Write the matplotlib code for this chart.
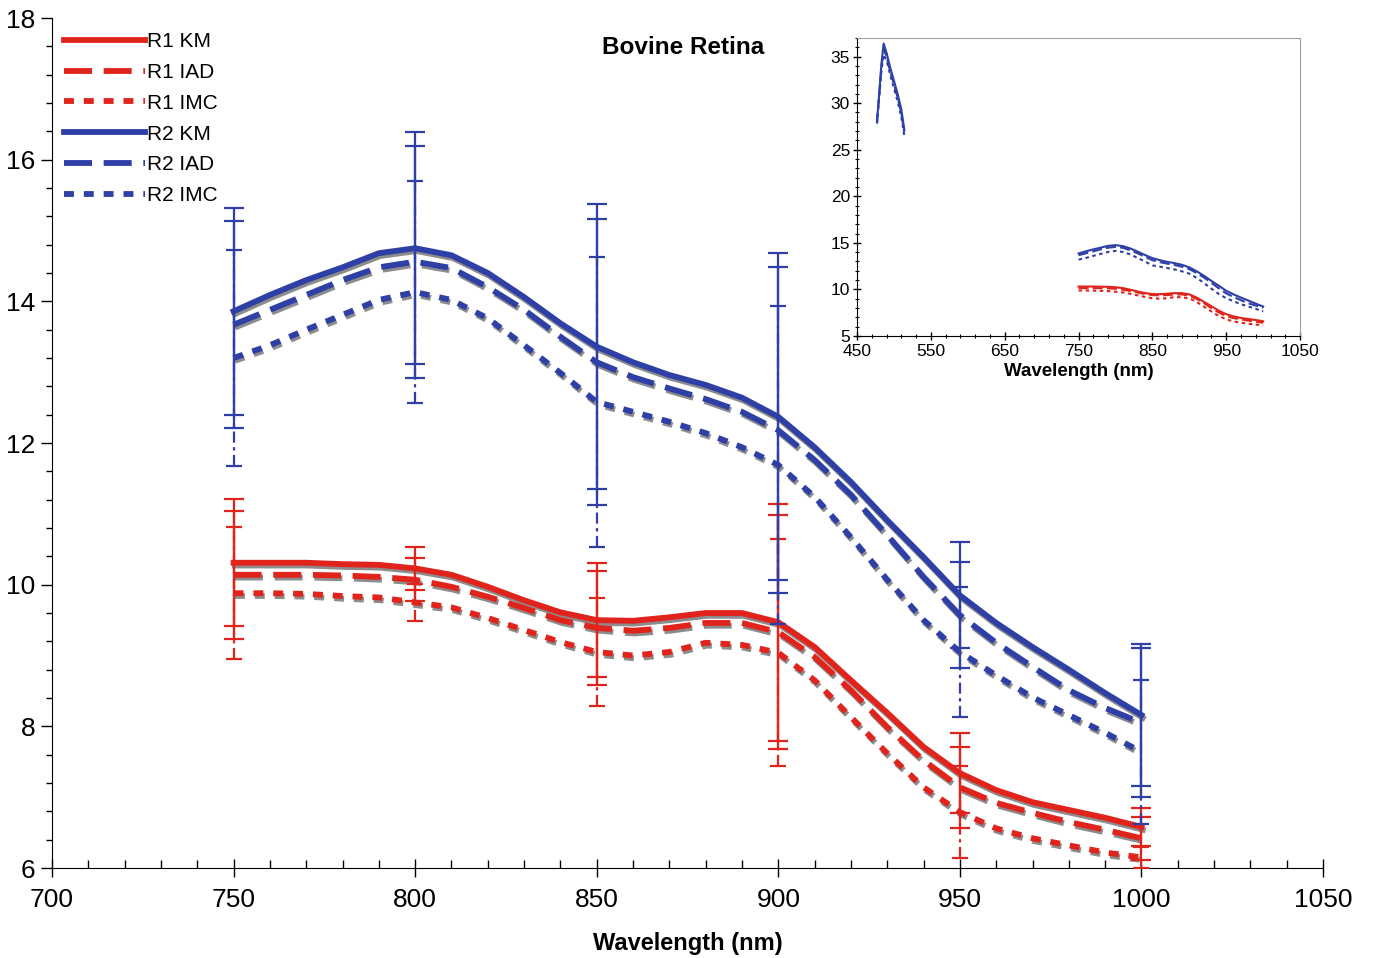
import matplotlib
matplotlib.use("Agg")
import matplotlib.pyplot as plt
import matplotlib.patheffects as pe
from matplotlib.lines import Line2D
from matplotlib.ticker import MultipleLocator, FixedLocator

plt.rcParams["font.family"] = ["Liberation Sans", "DejaVu Sans"]

# wavelengths (nm) for the smoothed spectra
WAVELENGTH = [750, 760, 770, 780, 790, 800, 810, 820, 830, 840, 850, 860, 870,
              880, 890, 900, 910, 920, 930, 940, 950, 960, 970, 980, 990, 1000]

R1_KM = [10.31, 10.31, 10.31, 10.29, 10.28, 10.23, 10.14, 9.97, 9.78, 9.61, 9.50, 9.49, 9.54,
         9.60, 9.60, 9.47, 9.12, 8.65, 8.19, 7.71, 7.34, 7.10, 6.93, 6.82, 6.71, 6.58]
R1_IAD = [10.14, 10.14, 10.14, 10.13, 10.11, 10.07, 9.97, 9.83, 9.67, 9.50, 9.39, 9.35, 9.39,
          9.46, 9.46, 9.33, 8.98, 8.51, 7.99, 7.52, 7.14, 6.92, 6.78, 6.65, 6.54, 6.42]
R1_IMC = [9.88, 9.88, 9.87, 9.84, 9.82, 9.75, 9.68, 9.53, 9.36, 9.19, 9.05, 9.00, 9.05,
          9.18, 9.15, 9.04, 8.65, 8.13, 7.62, 7.14, 6.79, 6.56, 6.42, 6.32, 6.22, 6.15]
R2_KM = [13.86, 14.09, 14.30, 14.48, 14.68, 14.75, 14.65, 14.40, 14.06, 13.69, 13.36, 13.14, 12.96,
         12.82, 12.64, 12.37, 11.94, 11.45, 10.91, 10.39, 9.85, 9.46, 9.12, 8.80, 8.47, 8.16]
R2_IAD = [13.67, 13.88, 14.09, 14.30, 14.48, 14.56, 14.47, 14.20, 13.88, 13.50, 13.14, 12.93, 12.77,
          12.62, 12.44, 12.18, 11.76, 11.27, 10.70, 10.11, 9.57, 9.18, 8.84, 8.51, 8.26, 8.05]
R2_IMC = [13.20, 13.38, 13.60, 13.81, 14.02, 14.13, 14.02, 13.76, 13.38, 12.99, 12.58, 12.44, 12.30,
          12.14, 11.94, 11.69, 11.24, 10.67, 10.07, 9.50, 9.05, 8.72, 8.41, 8.16, 7.91, 7.64]

# error bars every 50 nm
ERR_WAVELENGTH = [750, 800, 850, 900, 950, 1000]
R1_KM_ERR = [0.90, 0.30, 0.80, 1.67, 0.57, 0.27]
R1_IAD_ERR = [0.90, 0.30, 0.80, 1.65, 0.57, 0.30]
R1_IMC_ERR = [0.93, 0.26, 0.76, 1.60, 0.65, 0.15]
R2_KM_ERR = [1.46, 1.64, 2.01, 2.31, 0.75, 1.00]
R2_IAD_ERR = [1.46, 1.64, 2.02, 2.30, 0.75, 1.05]
R2_IMC_ERR = [1.52, 1.57, 2.05, 2.25, 0.92, 1.02]

# visible-range peak, only in the inset
PEAK_WAVELENGTH = [477, 480, 483, 486, 490, 495, 500, 505, 510, 514]
PEAK_R2_KM = [28.0, 31.0, 34.2, 36.4, 35.4, 33.8, 32.4, 31.0, 29.3, 27.2]
PEAK_R2_IAD = [27.9, 30.8, 33.8, 35.8, 35.0, 33.4, 32.0, 30.6, 28.9, 26.9]
PEAK_R2_IMC = [27.8, 30.6, 33.4, 35.2, 34.6, 33.0, 31.6, 30.2, 28.5, 26.5]

RED = "#E0241C"
BLUE = "#2E3FA5"
DASHES = {"KM": None, "IAD": (4.8, 2.0), "IMC": (1.7, 1.7)}
SHADOW = [pe.SimpleLineShadow(offset=(1.0, -2.0), shadow_color="#8C8C8C", alpha=1.0), pe.Normal()]


def styled_line(axis, x, y, color, kind, lw, effects=None):
    line, = axis.plot(x, y, color=color, lw=lw, path_effects=effects,
                      solid_joinstyle="round", dash_joinstyle="round", zorder=3)
    if DASHES[kind]:
        line.set_dashes(DASHES[kind])
    return line


fig = plt.figure(figsize=(13.73, 9.58), dpi=100)
ax = fig.add_axes([0.0379, 0.0939, 0.9257, 0.8873])

series = [
    ("R1 KM", R1_KM, R1_KM_ERR, RED, "KM"),
    ("R1 IAD", R1_IAD, R1_IAD_ERR, RED, "IAD"),
    ("R1 IMC", R1_IMC, R1_IMC_ERR, RED, "IMC"),
    ("R2 KM", R2_KM, R2_KM_ERR, BLUE, "KM"),
    ("R2 IAD", R2_IAD, R2_IAD_ERR, BLUE, "IAD"),
    ("R2 IMC", R2_IMC, R2_IMC_ERR, BLUE, "IMC"),
]

handles = []
for label, values, errs, color, kind in series:
    styled_line(ax, WAVELENGTH, values, color, kind, 4.2, SHADOW)
    centers = [values[WAVELENGTH.index(w)] for w in ERR_WAVELENGTH]
    if kind == "IMC":
        eb = ax.errorbar(ERR_WAVELENGTH, centers, yerr=errs, fmt="none", ecolor=color,
                         elinewidth=1.6, capsize=6, capthick=1.6, zorder=4)
        eb[2][0].set_linestyle((0, (5, 2, 1.5, 2)))
    else:
        ax.errorbar(ERR_WAVELENGTH, centers, yerr=errs, fmt="none", ecolor=color,
                    elinewidth=1.6, capsize=7, capthick=1.6, zorder=4)
    h = Line2D([], [], color=color, lw=4.2)
    if DASHES[kind]:
        h.set_dashes(DASHES[kind])
    handles.append(h)

ax.set_xlim(700, 1050)
ax.set_ylim(6, 18)
ax.spines["top"].set_visible(False)
ax.spines["right"].set_visible(False)
ax.xaxis.set_major_locator(MultipleLocator(50))
ax.xaxis.set_minor_locator(MultipleLocator(10))
ax.yaxis.set_major_locator(MultipleLocator(2))
ax.yaxis.set_minor_locator(MultipleLocator(0.4))
ax.tick_params(axis="x", which="major", direction="inout", length=13, width=1, labelsize=19, pad=8)
ax.tick_params(axis="x", which="minor", direction="in", length=6, width=1)
ax.tick_params(axis="y", which="major", direction="out", length=8, width=1, labelsize=19, pad=4)
ax.tick_params(axis="y", which="minor", direction="out", length=4, width=1)
ax.set_xlabel("Wavelength (nm)", fontsize=17, fontweight="bold", labelpad=14)

fig.text(683 / 1373, 1 - 48 / 958, "Bovine Retina", fontsize=17.5, fontweight="bold",
         ha="center", va="center")

fig.legend(handles, [s[0] for s in series], loc="upper left",
           bbox_to_anchor=(64 / 1373, 1 - 32 / 958), frameon=False, fontsize=15,
           handlelength=3.9, handletextpad=0.1, labelspacing=0.57,
           borderpad=0, borderaxespad=0)

# inset with the full spectrum
axin = fig.add_axes([0.6242, 0.6493, 0.3227, 0.3111])
for label, values, errs, color, kind in series:
    styled_line(axin, WAVELENGTH, values, color, kind, 1.5)
for values, kind in [(PEAK_R2_KM, "KM"), (PEAK_R2_IAD, "IAD"), (PEAK_R2_IMC, "IMC")]:
    styled_line(axin, PEAK_WAVELENGTH, values, BLUE, kind, 1.5)

axin.set_xlim(450, 1050)
axin.set_ylim(5, 37)
axin.set_xticks([450, 550, 650, 750, 850, 950, 1050])
axin.xaxis.set_minor_locator(FixedLocator(list(range(450, 1051, 20))))
axin.yaxis.set_major_locator(MultipleLocator(5))
axin.yaxis.set_minor_locator(MultipleLocator(1))
axin.spines["top"].set_color("#A0A0A0")
axin.spines["right"].set_color("#A0A0A0")
axin.tick_params(which="major", direction="inout", length=6, width=1, labelsize=12.5)
axin.tick_params(axis="x", which="major", pad=3)
axin.tick_params(axis="y", which="major", pad=2)
axin.tick_params(which="minor", direction="inout", length=3, width=0.8)
axin.set_xlabel("Wavelength (nm)", fontsize=13.5, fontweight="bold", labelpad=3)

fig.savefig("out.png", dpi=100)
